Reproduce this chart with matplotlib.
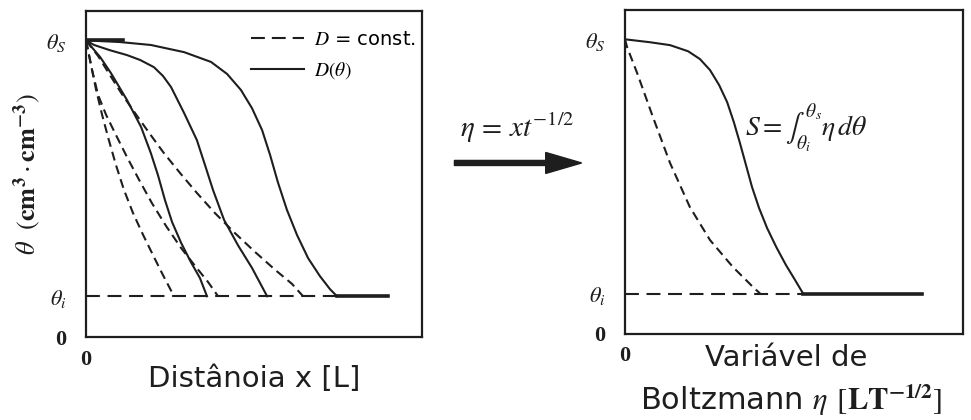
import matplotlib.pyplot as plt
from matplotlib.patches import FancyArrow

plt.rcParams['mathtext.fontset'] = 'stix'
plt.rcParams['font.family'] = 'DejaVu Sans'
plt.rcParams['lines.scale_dashes'] = False

ink = '#1e1e1e'

theta_s = 0.91
theta_i = 0.125

# water content profiles along distance, constant diffusivity (three times)
x_c1 = [0.0, 0.15, 0.30, 0.48, 0.68, 0.89, 1.13, 1.40, 1.70, 1.99, 2.29, 2.62]
th_c1 = [0.91, 0.834, 0.758, 0.681, 0.604, 0.528, 0.451, 0.380, 0.313, 0.252, 0.190, 0.125]
x_c2 = [0.0, 0.18, 0.36, 0.60, 0.89, 1.22, 1.58, 1.96, 2.38, 2.83, 3.27, 3.63, 3.93]
th_c2 = [0.91, 0.819, 0.742, 0.681, 0.620, 0.552, 0.482, 0.411, 0.341, 0.273, 0.215, 0.169, 0.125]
x_c3 = [0.0, 0.36, 0.71, 1.07, 1.46, 1.88, 2.32, 2.80, 3.30, 3.84, 4.43, 5.03, 5.63, 6.13, 6.46]
th_c3 = [0.91, 0.862, 0.804, 0.745, 0.687, 0.626, 0.564, 0.503, 0.442, 0.380, 0.319, 0.261,
         0.206, 0.163, 0.125]

# same times, diffusivity depending on theta
x_v1 = [0.0, 0.42, 0.74, 1.22, 1.64, 1.93, 2.14, 2.35, 2.56, 2.83, 3.12, 3.39, 3.60]
th_v1 = [0.91, 0.859, 0.810, 0.727, 0.644, 0.564, 0.497, 0.420, 0.353, 0.289, 0.230, 0.181, 0.125]
x_v2 = [0.0, 0.24, 0.71, 1.22, 1.61, 2.02, 2.29, 2.53, 2.92, 3.30, 3.54, 3.78, 4.11, 4.52, 4.94, 5.39]
th_v2 = [0.91, 0.896, 0.880, 0.865, 0.850, 0.828, 0.801, 0.767, 0.687, 0.604, 0.528, 0.451,
         0.359, 0.282, 0.212, 0.125]
x_v3 = [0.0, 1.01, 1.93, 2.92, 3.72, 4.20, 4.61, 4.94, 5.24, 5.48, 5.71, 5.98, 6.28, 6.61, 6.96,
        7.26, 7.47]
th_v3 = [0.91, 0.905, 0.896, 0.874, 0.844, 0.807, 0.758, 0.702, 0.635, 0.558, 0.475, 0.390,
         0.313, 0.242, 0.187, 0.147, 0.125]
x_tail = [7.47, 8.99]

# the same profiles against the Boltzmann variable
eta_c = [0.0, 0.06, 0.36, 0.83, 1.34, 1.93, 2.53, 3.21, 3.81, 4.02]
th_eta_c = [0.91, 0.886, 0.806, 0.670, 0.528, 0.392, 0.290, 0.207, 0.145, 0.125]
eta_v = [0.0, 0.74, 1.34, 1.88, 2.23, 2.53, 2.80, 3.04, 3.24, 3.42, 3.60, 3.78, 3.99, 4.23, 4.50,
         4.79, 5.06, 5.30]
th_eta_v = [0.91, 0.901, 0.892, 0.873, 0.849, 0.815, 0.769, 0.716, 0.654, 0.590, 0.522, 0.454,
            0.389, 0.327, 0.269, 0.213, 0.167, 0.125]
eta_tail = [5.30, 8.84]

ytick_vals = [0, theta_i, theta_s]
ytick_text = ['0', r'$\theta_i$', r'$\theta_S$']

dash_curve = (6.5, 3.8)
dash_base = (10, 5.5)

fig = plt.figure(figsize=(9.71, 4.2), dpi=100)
ax1 = fig.add_axes([0.0886, 0.1976, 0.346, 0.776])
ax2 = fig.add_axes([0.6437, 0.2048, 0.348, 0.771])

for ax in (ax1, ax2):
    for sp in ax.spines.values():
        sp.set_linewidth(1.6)
        sp.set_color(ink)
    ax.set_ylim(0, 1)
    ax.set_yticks(ytick_vals)
    ax.set_yticklabels(ytick_text)
    ax.set_xticks([0])
    ax.set_xticklabels(['0'])
    ax.tick_params(axis='y', length=0, pad=14, labelsize=16, colors=ink)
    ax.tick_params(axis='x', length=0, pad=9, labelsize=16, colors=ink)
    for lab in ax.get_xticklabels() + ax.get_yticklabels():
        lab.set_fontfamily('Liberation Serif')
        lab.set_fontweight('bold')

ax1.set_xlim(0, 10)
ax2.set_xlim(0, 10.06)

# left panel
for xs, ts in [(x_c1, th_c1), (x_c2, th_c2), (x_c3, th_c3)]:
    ax1.plot(xs, ts, color=ink, lw=1.5, dashes=dash_curve)
for xs, ts in [(x_v1, th_v1), (x_v2, th_v2), (x_v3, th_v3)]:
    ax1.plot(xs, ts, color=ink, lw=1.5)
ax1.plot([0, x_tail[0]], [theta_i, theta_i], color=ink, lw=1.5, dashes=dash_base)
ax1.plot(x_tail, [theta_i, theta_i], color=ink, lw=2.6)
ax1.plot([0, 1.1], [theta_s, theta_s], color=ink, lw=2.6)

handles = [plt.Line2D([], [], color=ink, lw=1.5, dashes=(10, 5)),
           plt.Line2D([], [], color=ink, lw=1.5)]
ax1.legend(handles, [r'$D$ = const.', r'$D(\theta)$'], loc='upper left',
           bbox_to_anchor=(0.44, 0.995), frameon=False, handlelength=2.7,
           handletextpad=0.5, labelspacing=0.55, fontsize=14)

ax1.set_ylabel(r'$\theta\ \ (\mathbf{cm}^{\mathbf{3}}\cdot\mathbf{cm}^{\mathbf{-3}})$',
               fontsize=19, color=ink, labelpad=2)
ax1.set_xlabel('Distânoia x [L]', fontsize=21, color=ink, labelpad=-3)

# right panel
ax2.plot(eta_c, th_eta_c, color=ink, lw=1.5, dashes=dash_curve)
ax2.plot(eta_v, th_eta_v, color=ink, lw=1.5)
ax2.plot([0, eta_tail[0]], [theta_i, theta_i], color=ink, lw=1.5, dashes=dash_base)
ax2.plot(eta_tail, [theta_i, theta_i], color=ink, lw=2.6)
ax2.text(3.57, 0.635, r'$S=\int_{\theta_i}^{\theta_s}\eta\, d\theta$', fontsize=20,
         color=ink, va='center', ha='left')

fig.text(0.726, 0.148, 'Variável de', fontsize=21, color=ink, ha='left', va='center')
fig.text(0.659, 0.048, r'Boltzmann $\eta$ $[\mathbf{LT}^{\mathbf{-1/2}}]$', fontsize=22,
         color=ink, ha='left', va='center')

# transformation arrow between the panels
fig.text(0.533, 0.695, r'$\eta\,=\,xt^{-1/2}$', fontsize=21, color=ink,
         ha='center', va='center')
fig.patches.append(FancyArrow(
    0.468, 0.612, 0.131, 0, width=0.012, head_width=0.05, head_length=0.037,
    length_includes_head=True, color=ink, transform=fig.transFigure))

fig.savefig('out.png', dpi=100)
